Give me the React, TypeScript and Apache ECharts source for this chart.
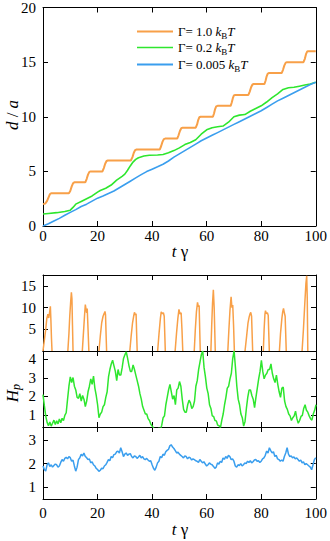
import React, { useEffect, useRef } from 'react';
import * as echarts from 'echarts';

const FONT = '"Liberation Serif", "Times New Roman", serif';
const ORANGE = '#F8A048';
const GREEN = '#2EE62E';
const BLUE = '#3A9EEE';

const xTicks = [0, 20, 40, 60, 80, 100];
const hp2Ticks = [1, 2, 3, 4];
const hp3Ticks = [1, 2, 3];
const legendLabels = ['Γ= 1.0 ', 'Γ= 0.2 ', 'Γ= 0.005 '];

// top panel: d/a vs t*gamma
const dOrange: [number, number][] = [
  [0, 2.0], [0.8, 2.05], [1.5, 2.3], [2.0, 2.6], [2.5, 2.9], [3.0, 3.0],
  [9.5, 3.0], [10.0, 3.2], [10.5, 3.6], [11.0, 3.9], [11.5, 4.0],
  [15.5, 4.0], [16.0, 4.3], [16.5, 4.7], [17.0, 4.95], [17.5, 5.0],
  [21.8, 5.0], [22.3, 5.3], [22.8, 5.7], [23.3, 5.95], [23.8, 6.0],
  [32.2, 6.0], [32.8, 6.3], [33.3, 6.7], [33.8, 6.95], [34.3, 7.0],
  [42.8, 7.0], [43.3, 7.3], [43.8, 7.7], [44.3, 7.95], [44.8, 8.0],
  [49.2, 8.0], [49.7, 8.3], [50.2, 8.7], [50.7, 8.95], [51.2, 9.0],
  [56.0, 9.0], [56.5, 9.3], [56.9, 9.7], [57.3, 9.95], [57.8, 10.0],
  [62.3, 10.0], [62.7, 10.3], [63.1, 10.7], [63.5, 10.95], [64.0, 11.0],
  [68.8, 11.0], [69.2, 11.3], [69.6, 11.7], [70.0, 11.95], [70.5, 12.0],
  [75.3, 12.0], [75.8, 12.3], [76.3, 12.7], [76.8, 12.95], [77.3, 13.0],
  [81.2, 13.0], [81.6, 13.3], [82.0, 13.7], [82.4, 13.95], [82.9, 14.0],
  [87.5, 14.0], [88.0, 14.3], [88.5, 14.7], [89.0, 14.95], [89.5, 15.0],
  [95.5, 15.0], [96.0, 15.3], [96.4, 15.7], [96.8, 15.95], [97.2, 16.0],
  [100, 16.0],
];
const dGreen: [number, number][] = [
  [0, 1.1], [2, 1.15], [5, 1.22], [8, 1.32], [10, 1.45], [11, 1.7], [12, 2.0], [14, 2.25],
  [16, 2.5], [18, 2.75], [20, 3.1], [21, 3.25], [23, 3.45], [25, 3.75], [27, 4.2], [29, 4.55],
  [30, 4.75], [31, 5.1], [32, 5.5], [33, 5.85], [34, 6.1], [35, 6.25], [37, 6.4], [39, 6.48],
  [42, 6.5], [44, 6.55], [46, 6.7], [48, 6.9], [50, 7.15], [52, 7.45], [54, 7.65], [56, 7.9],
  [57, 8.15], [58, 8.4], [60, 8.8], [62, 9.0], [64, 9.08], [66, 9.15], [68, 9.5], [70, 10.0],
  [72, 10.15], [74, 10.2], [76, 10.5], [78, 10.75], [80, 11.0], [82, 11.35], [84, 11.75],
  [86, 12.1], [88, 12.5], [90, 12.65], [92, 12.7], [94, 12.8], [96, 12.9], [98, 13.0], [100, 13.15],
];
const dBlue: [number, number][] = [
  [0, 0], [2, 0.2], [4, 0.45], [6, 0.7], [8, 0.98], [10, 1.25], [12, 1.5], [14, 1.78], [16, 2.0],
  [18, 2.28], [20, 2.55], [22, 2.75], [24, 2.98], [26, 3.2], [28, 3.5], [30, 3.8], [32, 4.1],
  [34, 4.4], [36, 4.7], [38, 4.98], [40, 5.2], [42, 5.42], [44, 5.65], [46, 5.95], [48, 6.3],
  [50, 6.6], [52, 6.9], [54, 7.2], [56, 7.5], [58, 7.8], [60, 8.05], [62, 8.3], [64, 8.55],
  [66, 8.8], [68, 9.05], [70, 9.3], [72, 9.55], [74, 9.8], [76, 10.05], [78, 10.3], [80, 10.55],
  [82, 10.85], [84, 11.15], [86, 11.45], [88, 11.7], [90, 11.95], [92, 12.2], [94, 12.45],
  [96, 12.7], [98, 12.95], [100, 13.15],
];

// bottom panels: H_p
const hpOrangePeaks: [number, number][][] = [
  [[0, 0], [0.5, 2.5], [1.0, 5], [1.4, 7.5], [1.8, 8.5], [2.1, 7.6], [2.4, 8.8], [2.7, 10.3], [2.9, 7], [3.1, 3], [3.3, 0]],
  [[9.1, 0], [9.5, 4], [9.8, 8], [10.1, 11], [10.4, 13.5], [10.6, 12], [10.8, 6], [11.0, 0]],
  [[14.4, 0], [14.8, 4], [15.2, 8], [15.5, 10.7], [15.8, 9.5], [16.0, 8.8], [16.2, 9.8], [16.5, 5], [16.8, 0]],
  [[20.5, 0], [21.0, 3.5], [21.5, 6.5], [22.0, 8.0], [22.4, 8.6], [22.7, 9.1], [22.9, 8.4], [23.1, 4], [23.3, 0]],
  [[31.8, 0], [32.3, 3.5], [32.8, 6.5], [33.2, 8.0], [33.5, 8.9], [33.8, 8.3], [34.1, 8.6], [34.3, 4], [34.5, 0]],
  [[42.0, 0], [42.5, 4], [43.0, 7.5], [43.3, 9.0], [43.7, 8.6], [44.1, 8.8], [44.4, 8.0], [44.6, 4], [44.8, 0]],
  [[48.4, 0], [48.9, 4], [49.4, 7.5], [49.8, 9.6], [50.2, 8.5], [50.6, 8.8], [50.9, 5], [51.2, 0]],
  [[55.4, 0], [55.8, 5], [56.2, 9], [56.6, 11.2], [56.9, 10.2], [57.2, 10.5], [57.4, 5], [57.6, 0]],
  [[61.5, 0], [61.8, 6], [62.1, 11], [62.4, 14.1], [62.7, 10], [62.9, 5], [63.1, 0]],
  [[67.7, 0], [68.1, 5], [68.5, 9.5], [68.9, 12.5], [69.2, 10], [69.5, 10.6], [69.8, 6], [70.1, 0]],
  [[74.0, 0], [74.6, 3.5], [75.1, 6.5], [75.5, 7.8], [75.8, 8.5], [76.1, 8.9], [76.4, 8.0], [76.6, 4], [76.8, 0]],
  [[80.7, 0], [81.0, 5], [81.3, 8.5], [81.5, 9.3], [81.8, 8.6], [82.2, 8.8], [82.5, 8.2], [82.7, 4], [82.9, 0]],
  [[86.6, 0], [87.0, 4], [87.5, 7.5], [87.8, 9], [88.1, 9.8], [88.4, 8.8], [88.7, 8.0], [88.9, 4], [89.1, 0]],
  [[94.9, 0], [95.4, 5], [95.9, 11], [96.3, 15.5], [96.6, 17.3], [96.8, 12], [96.9, 6], [97.0, 0]],
];

const SAMPLE_DT = 0.5; // sampling step of the two noisy traces
const hpGreen: number[] = [
  2.1, 1.5, 0.95, 0.6, 0.42, 0.62, 0.4, 0.55, 0.72, 0.48, 0.68, 0.52, 0.78, 0.58, 0.82, 0.7, 0.98, 1.12, 1.85, 2.55,
  3.05, 2.75, 3.02, 2.55, 2.35, 1.95, 1.9, 2.15, 1.75, 2.05, 1.85, 1.45, 1.75, 2.25, 2.55, 2.95, 2.65, 3.1, 2.45, 2.05,
  1.55, 0.85, 1.05, 1.15, 1.45, 1.55, 1.95, 2.25, 3.05, 3.45, 3.75, 3.95, 3.65, 3.35, 2.85, 3.45, 3.15, 3.15, 3.55, 4.05,
  4.25, 4.4, 4.05, 3.65, 3.35, 3.35, 3.7, 3.45, 3.15, 2.85, 2.55, 2.15, 1.85, 1.45, 1.25, 1.05, 1.05, 0.8, 0.7, 0.5,
  0.4, 0.3, 0.2, 0.1, 0.2, 0.3, 0.2, 0.45, 0.85, 0.95, 1.55, 1.95, 2.35, 2.65, 2.25, 1.85, 2.05, 1.55, 2.35, 2.45,
  2.8, 2.55, 1.85, 1.3, 1.15, 1.15, 1.55, 1.8, 1.65, 1.35, 1.45, 1.75, 2.55, 2.85, 3.45, 3.85, 4.25, 4.45, 3.55, 3.05,
  2.45, 2.15, 1.55, 1.35, 0.95, 0.92, 0.7, 0.68, 0.45, 0.42, 0.32, 0.72, 1.05, 1.55, 1.95, 2.45, 2.55, 2.95, 3.25, 4.05,
  4.45, 3.55, 2.55, 1.85, 1.55, 1.05, 0.85, 0.4, 0.65, 1.35, 1.95, 2.35, 2.35, 2.05, 1.85, 1.4, 1.95, 2.45, 2.95, 3.35,
  3.95, 3.35, 2.95, 3.15, 3.25, 3.45, 3.45, 3.75, 3.25, 2.95, 2.75, 3.15, 2.65, 2.25, 1.95, 2.45, 2.5, 1.75, 1.45, 1.3,
  1.05, 0.95, 0.7, 0.85, 0.95, 1.2, 0.8, 0.55, 0.7, 0.92, 0.98, 1.35, 1.55, 1.25, 1.15, 0.95, 0.8, 0.72, 1.05, 1.25, 1.55,
];
const hpBlue: number[] = [
  1.9, 1.75, 1.68, 1.95, 2.03, 1.88, 1.95, 1.85, 1.92, 1.98, 1.95, 1.85, 1.9, 2.05, 2.17, 2.1, 2.22, 2.27, 2.2, 2.3,
  2.25, 2.1, 2.15, 1.9, 1.68, 1.85, 2.17, 2.25, 2.4, 2.32, 2.45, 2.3, 2.25, 2.17, 2.2, 2.03, 2.08, 1.95, 1.9, 1.8,
  1.75, 1.67, 1.72, 1.8, 1.78, 1.9, 1.95, 2.05, 2.17, 2.12, 2.3, 2.25, 2.38, 2.4, 2.5, 2.53, 2.45, 2.67, 2.5, 2.3,
  2.4, 2.45, 2.35, 2.4, 2.42, 2.3, 2.24, 2.32, 2.3, 2.22, 2.28, 2.35, 2.24, 2.3, 2.2, 2.17, 2.22, 2.15, 2.1, 2.12,
  1.95, 1.8, 1.72, 1.85, 2.03, 2.1, 2.3, 2.25, 2.4, 2.35, 2.5, 2.56, 2.6, 2.75, 2.8, 2.7, 2.64, 2.55, 2.45, 2.48,
  2.4, 2.35, 2.3, 2.24, 2.32, 2.3, 2.2, 2.27, 2.24, 2.15, 2.2, 2.17, 2.12, 2.1, 2.05, 2.17, 2.1, 2.03, 2.08, 1.98,
  1.9, 1.95, 2.03, 1.98, 1.95, 1.88, 1.8, 1.85, 2.03, 1.98, 2.1, 2.05, 2.24, 2.18, 2.3, 2.22, 2.35, 2.3, 2.17, 2.2,
  2.1, 1.9, 1.85, 1.95, 1.92, 2.0, 1.9, 1.95, 2.03, 2.0, 2.1, 2.05, 2.12, 2.03, 2.08, 2.15, 2.17, 2.1, 2.12, 2.05,
  2.1, 2.2, 2.24, 2.35, 2.53, 2.45, 2.67, 2.55, 2.45, 2.5, 2.3, 2.35, 2.2, 2.17, 2.1, 2.15, 2.1, 2.3, 2.45, 2.67,
  2.4, 2.3, 2.32, 2.24, 2.28, 2.2, 2.24, 2.17, 2.1, 2.15, 2.03, 2.08, 1.95, 2.0, 1.95, 1.9, 1.85, 1.74, 1.95, 2.17, 2.25,
];

const GRIDS = [
  { left: 43, top: 7, width: 273, height: 219 },
  { left: 43, top: 275, width: 273, height: 76 },
  { left: 43, top: 351, width: 273, height: 76 },
  { left: 43, top: 427, width: 273, height: 72 },
];

const axisLine = { show: true, onZero: false, lineStyle: { color: '#000', width: 1 } };
const tickBase = { show: true, inside: true, length: 5, lineStyle: { color: '#000', width: 1 } };
const labelBase = { fontFamily: FONT, fontSize: 15, color: '#000' };

function xAxes(gridIndex: number, showLabels: boolean, margin: number) {
  const base = {
    type: 'value', gridIndex, min: xTicks[0], max: xTicks[xTicks.length - 1], interval: xTicks[1] - xTicks[0],
    splitLine: { show: false }, axisLine, axisTick: tickBase,
  };
  return [
    { ...base, position: 'bottom', axisLabel: { show: showLabels, margin, ...labelBase } },
    { ...base, position: 'top', axisLabel: { show: false } },
  ];
}

function yAxes(gridIndex: number, min: number, max: number, interval: number | null, custom: number[] | null, hideEnds: boolean) {
  const base: any = {
    type: 'value', gridIndex, min, max, splitLine: { show: false }, axisLine,
    axisTick: custom ? { ...tickBase, customValues: custom } : tickBase,
  };
  if (interval) base.interval = interval;
  const lbl: any = { show: true, margin: 7, ...labelBase };
  if (custom) lbl.customValues = custom;
  if (hideEnds) { lbl.showMinLabel = false; lbl.showMaxLabel = false; }
  return [
    { ...base, position: 'left', axisLabel: lbl },
    { ...base, position: 'right', axisLabel: { show: false } },
  ];
}

function line(name: string, color: string, data: any[], g: number, width: number) {
  return {
    type: 'line', name, data, xAxisIndex: 2 * g, yAxisIndex: 2 * g,
    showSymbol: false, symbol: 'none', color, itemStyle: { color },
    lineStyle: { color, width }, clip: true, connectNulls: false, silent: true,
  };
}

const orangeHpData: any[] = [];
hpOrangePeaks.forEach((seg) => {
  seg.forEach((p) => orangeHpData.push(p));
  orangeHpData.push([seg[seg.length - 1][0] + 0.1, '-']);
});

const legendRich = {
  r: { fontFamily: FONT, fontSize: 13, color: '#000', lineHeight: 18 },
  i: { fontFamily: FONT, fontSize: 13, fontStyle: 'italic', color: '#000', lineHeight: 18 },
  s: { fontFamily: FONT, fontSize: 9, color: '#000', lineHeight: 9, verticalAlign: 'bottom' },
};

const seriesNames = ['g10', 'g02', 'g0005'];
const legendTops = [25, 41, 58];

const titleRich = {
  i: { fontFamily: FONT, fontSize: 17, fontStyle: 'italic', fill: '#000', lineHeight: 20 },
  r: { fontFamily: FONT, fontSize: 17, fill: '#000', lineHeight: 20 },
  s: { fontFamily: FONT, fontSize: 12, fontStyle: 'italic', fill: '#000', lineHeight: 12, verticalAlign: 'bottom' },
};

function title(text: string, x: number, y: number, rotation = 0) {
  return {
    type: 'text', x, y, rotation,
    style: { text, rich: titleRich, fontFamily: FONT, fontSize: 17, fill: '#000', align: 'center', verticalAlign: 'middle' },
  };
}

export default function App() {
  const ref = useRef<HTMLDivElement>(null);
  useEffect(() => {
    const chart = echarts.init(ref.current!, null, { renderer: 'svg' });
    const option: any = {
      animation: false,
      backgroundColor: '#fff',
      grid: GRIDS.map((g) => ({ ...g, containLabel: false, show: false })),
      xAxis: [
        ...xAxes(0, true, 2),
        ...xAxes(1, false, 0),
        ...xAxes(2, false, 0),
        ...xAxes(3, true, 6),
      ],
      yAxis: [
        ...yAxes(0, 0, 20, 5, null, false),
        ...yAxes(1, 0, 17.5, 5, null, true),
        ...yAxes(2, 0.35, 4.45, null, hp2Ticks, false),
        ...yAxes(3, 0.5, 3.55, null, hp3Ticks, false),
      ],
      legend: seriesNames.map((n, k) => ({
        data: [n], left: 137, top: legendTops[k], padding: 0, orient: 'vertical',
        icon: 'rect', itemWidth: 36, itemHeight: k === 1 ? 1.5 : 2, selectedMode: false,
        formatter: () => `{r|${legendLabels[k]}}{i|k}{s|B}{i|T}`,
        textStyle: { rich: legendRich, fontFamily: FONT, fontSize: 13, color: '#000' },
      })),
      series: [
        line(seriesNames[0], ORANGE, dOrange, 0, 2),
        line(seriesNames[1], GREEN, dGreen, 0, 1.6),
        line(seriesNames[2], BLUE, dBlue, 0, 1.6),
        line('hp10', ORANGE, orangeHpData, 1, 1.5),
        line('hp02', GREEN, hpGreen.map((v, i) => [i * SAMPLE_DT, v]), 2, 1.5),
        line('hp0005', BLUE, hpBlue.map((v, i) => [i * SAMPLE_DT, v]), 3, 1.5),
      ],
      graphic: [
        title('{i|d} {r|/} {i|a}', 12, 115, Math.PI / 2),
        title('{i|t} {r|γ}', 180, 251),
        title('{i|H}{s|p}', 12, 393, Math.PI / 2),
        title('{i|t} {r|γ}', 180, 529),
      ],
    };
    chart.setOption(option);
    return () => chart.dispose();
  }, []);
  return <div ref={ref} style={{ position: 'absolute', left: 0, top: 0, width: 330, height: 541 }} />;
}
